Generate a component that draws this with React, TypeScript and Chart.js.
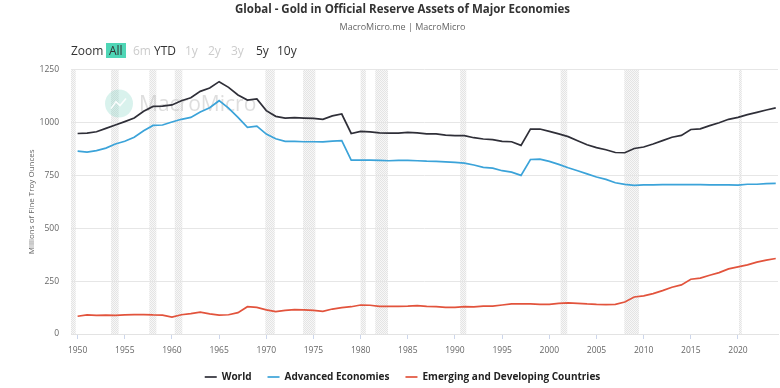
import React, { useEffect, useRef } from "react";
import { Chart, registerables } from "chart.js";

Chart.register(...registerables);

const YEARS = [
  1950, 1951, 1952, 1953, 1954, 1955, 1956, 1957, 1958, 1959,
  1960, 1961, 1962, 1963, 1964, 1965, 1966, 1967, 1968, 1969,
  1970, 1971, 1972, 1973, 1974, 1975, 1976, 1977, 1978, 1979,
  1980, 1981, 1982, 1983, 1984, 1985, 1986, 1987, 1988, 1989,
  1990, 1991, 1992, 1993, 1994, 1995, 1996, 1997, 1998, 1999,
  2000, 2001, 2002, 2003, 2004, 2005, 2006, 2007, 2008, 2009,
  2010, 2011, 2012, 2013, 2014, 2015, 2016, 2017, 2018, 2019,
  2020, 2021, 2022, 2023, 2024,
];

const WORLD = [
  948, 950, 956, 972, 988, 1004, 1021, 1053, 1076, 1077,
  1083, 1103, 1117, 1147, 1163, 1193, 1166, 1130, 1106, 1111,
  1056, 1029, 1021, 1023, 1021, 1019, 1015, 1031, 1040, 948,
  958, 956, 951, 950, 950, 953, 951, 946, 946, 940,
  938, 938, 928, 922, 919, 911, 909, 892, 969, 969,
  958, 946, 933, 914, 895, 881, 871, 858, 857, 877,
  884, 898, 914, 930, 939, 967, 970, 985, 999, 1015,
  1024, 1037, 1048, 1059, 1069,
];

const ADVANCED = [
  865, 860, 867, 879, 898, 911, 930, 961, 986, 988,
  1002, 1015, 1024, 1050, 1070, 1103, 1068, 1024, 977, 983,
  945, 923, 911, 911, 909, 909, 908, 912, 914, 822,
  822, 822, 821, 819, 821, 821, 819, 817, 816, 814,
  811, 808, 799, 788, 784, 772, 765, 750, 825, 827,
  816, 802, 786, 772, 757, 742, 731, 715, 707, 703,
  705, 705, 706, 706, 706, 706, 706, 705, 705, 705,
  704, 708, 708, 711, 712,
];

const EMERGING = [
  84, 90, 88, 89, 88, 90, 92, 92, 90, 89,
  80, 91, 96, 103, 95, 89, 91, 101, 129, 126,
  114, 106, 112, 115, 114, 112, 107, 118, 125, 129,
  137, 136, 131, 131, 131, 132, 134, 131, 129, 126,
  126, 129, 128, 132, 132, 137, 142, 142, 142, 140,
  140, 145, 147, 145, 142, 140, 139, 140, 151, 175,
  180, 191, 205, 221, 232, 259, 264, 278, 290, 308,
  317, 327, 340, 349, 357,
];

const SERIES_NAMES = ["World", "Advanced Economies", "Emerging and Developing Countries"];
const SERIES_COLORS = ["#2f2f38", "#3ba3d9", "#e2533c"];

const X_TICKS = [1950, 1955, 1960, 1965, 1970, 1975, 1980, 1985, 1990, 1995, 2000, 2005, 2010, 2015, 2020];
const Y_TICKS = [0, 250, 500, 750, 1000, 1250];

const RECESSION_STARTS = [1948.9, 1953.55, 1957.6, 1960.3, 1969.9, 1973.9, 1980.0, 1981.55, 1990.55, 2001.2, 2007.95, 2020.1];
const RECESSION_ENDS = [1949.8, 1954.35, 1958.35, 1961.1, 1970.9, 1975.2, 1980.55, 1982.9, 1991.2, 2001.9, 2009.5, 2020.4];

const TITLE = "Global - Gold in Official Reserve Assets of Major Economies";
const SUBTITLE = "MacroMicro.me | MacroMicro";
const Y_TITLE = "Millions of Fine Troy Ounces";
const ZOOM_BUTTONS = ["All", "6m", "YTD", "1y", "2y", "3y", "5y", "10y"];
const ZOOM_DISABLED = [false, true, false, true, true, true, false, false];
const ZOOM_LEFTS = [106, 133, 154, 185, 208, 231, 256, 277];

const FONT = "'Open Sans', 'Noto Sans', sans-serif";

const bandsPlugin = {
  id: "recessionBands",
  beforeDraw(chart: any) {
    const { ctx, chartArea, scales } = chart;
    const xs = scales.x;
    const pc = document.createElement("canvas");
    pc.width = 2;
    pc.height = 2;
    const pctx = pc.getContext("2d")!;
    pctx.fillStyle = "#f7f7f7";
    pctx.fillRect(0, 0, 2, 2);
    pctx.fillStyle = "#e4e4e4";
    pctx.fillRect(0, 0, 1, 1);
    pctx.fillRect(1, 1, 1, 1);
    const pattern = ctx.createPattern(pc, "repeat");
    ctx.save();
    ctx.beginPath();
    ctx.rect(chartArea.left, chartArea.top, chartArea.right - chartArea.left, chartArea.bottom - chartArea.top);
    ctx.clip();
    ctx.fillStyle = pattern || "#eeeeee";
    RECESSION_STARTS.forEach((s, i) => {
      const x0 = xs.getPixelForValue(s);
      const x1 = xs.getPixelForValue(RECESSION_ENDS[i]);
      ctx.fillRect(x0, chartArea.top, x1 - x0, chartArea.bottom - chartArea.top);
    });
    ctx.restore();
  },
};

const watermarkPlugin = {
  id: "watermark",
  beforeDatasetsDraw(chart: any) {
    const { ctx, chartArea } = chart;
    const cx = chartArea.left + 48;
    const cy = chartArea.top + 34;
    ctx.save();
    ctx.fillStyle = "rgba(120, 210, 190, 0.28)";
    ctx.beginPath();
    ctx.arc(cx, cy, 14, 0, Math.PI * 2);
    ctx.fill();
    ctx.strokeStyle = "rgba(255,255,255,0.9)";
    ctx.lineWidth = 1.5;
    ctx.beginPath();
    ctx.moveTo(cx - 8, cy + 5);
    ctx.lineTo(cx - 3, cy - 2);
    ctx.lineTo(cx + 1, cy + 2);
    ctx.lineTo(cx + 7, cy - 5);
    ctx.stroke();
    ctx.fillStyle = "rgba(190, 190, 190, 0.5)";
    ctx.font = `21px ${FONT}`;
    ctx.textBaseline = "middle";
    ctx.textAlign = "left";
    ctx.fillText("MacroMicro", cx + 20, cy + 1);
    ctx.restore();
  },
};

export default function App() {
  const canvasRef = useRef<HTMLCanvasElement | null>(null);

  useEffect(() => {
    const canvas = canvasRef.current;
    if (!canvas) return;
    const datasets = [WORLD, ADVANCED, EMERGING].map((vals, i) => ({
      label: SERIES_NAMES[i],
      data: YEARS.map((y, j) => ({ x: y, y: vals[j] })),
      borderColor: SERIES_COLORS[i],
      backgroundColor: SERIES_COLORS[i],
      borderWidth: 1.7,
      pointRadius: 0,
      tension: 0,
    }));
    const chart = new Chart(canvas, {
      type: "line",
      data: { datasets },
      plugins: [bandsPlugin, watermarkPlugin],
      options: {
        animation: false,
        responsive: false,
        devicePixelRatio: 1,
        layout: { padding: { left: 27, right: 2, top: 0, bottom: -4 } },
        plugins: {
          title: {
            display: true,
            text: TITLE,
            color: "#333333",
            font: { family: FONT, size: 11.5, weight: "bold" },
            padding: { top: 3, bottom: 2 },
          },
          subtitle: {
            display: true,
            text: SUBTITLE,
            color: "#666666",
            font: { family: FONT, size: 9 },
            padding: { top: 3, bottom: 37 },
          },
          legend: {
            position: "bottom",
            labels: {
              usePointStyle: true,
              pointStyle: "line",
              pointStyleWidth: 12,
              boxWidth: 12,
              padding: 16,
              color: "#222222",
              font: { family: FONT, size: 10, weight: "bold" },
            },
          },
          tooltip: { enabled: false },
        },
        scales: {
          x: {
            type: "linear",
            min: 1949.3,
            max: 2024.24,
            afterBuildTicks: (s: any) => {
              s.ticks = X_TICKS.map((v) => ({ value: v }));
            },
            afterFit: (s: any) => {
              s.height = 22;
            },
            ticks: {
              callback: (v: any) => String(v),
              color: "#666666",
              font: { family: FONT, size: 8.5 },
              padding: 6,
              maxRotation: 0,
              autoSkip: false,
            },
            grid: { drawOnChartArea: false, drawTicks: true, tickLength: 5, color: "#ccd6eb" },
            border: { display: true, color: "#e3e3e3" },
          },
          y: {
            min: 0,
            max: 1250,
            afterBuildTicks: (s: any) => {
              s.ticks = Y_TICKS.map((v) => ({ value: v }));
            },
            afterFit: (s: any) => {
              s.width = 44;
            },
            ticks: {
              callback: (v: any) => String(v),
              color: "#666666",
              font: { family: FONT, size: 8.5 },
              padding: 12,
            },
            grid: { color: "#e6e6e6", drawTicks: false },
            border: { display: false },
            title: {
              display: true,
              text: Y_TITLE,
              color: "#666666",
              font: { family: FONT, size: 8 },
              padding: { top: 0, bottom: 3 },
            },
          },
        },
      } as any,
    });
    return () => chart.destroy();
  }, []);

  return (
    <div style={{ position: "absolute", left: 0, top: 0, width: 780, height: 388, background: "#ffffff" }}>
      <canvas ref={canvasRef} width={780} height={388} style={{ display: "block" }} />
      <div
        style={{
          position: "absolute",
          left: 71,
          top: 43,
          height: 15,
          lineHeight: "15px",
          fontFamily: FONT,
          fontSize: 12,
          color: "#333333",
        }}
      >
        Zoom
      </div>
      {ZOOM_BUTTONS.map((b, i) => (
        <div
          key={b}
          style={{
            position: "absolute",
            left: ZOOM_LEFTS[i],
            top: 43,
            height: 15,
            lineHeight: "15px",
            padding: i === 0 ? "0 3px" : 0,
            background: i === 0 ? "#4fd6b6" : "transparent",
            fontFamily: FONT,
            fontSize: 12,
            color: ZOOM_DISABLED[i] ? "#cccccc" : "#333333",
          }}
        >
          {b}
        </div>
      ))}
    </div>
  );
}
